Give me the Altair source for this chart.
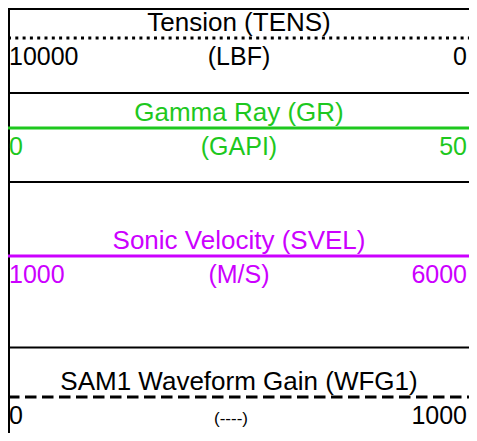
import altair as alt
import pandas as pd

# ---------------- data ----------------
curve_names = ["Tension (TENS)", "Gamma Ray (GR)", "Sonic Velocity (SVEL)", "SAM1 Waveform Gain (WFG1)"]
curve_units = ["(LBF)", "(GAPI)", "(M/S)", "(----)"]
scale_left = ["10000", "0", "1000", "0"]
scale_right = ["0", "50", "6000", "1000"]

# ---------------- styles ----------------
curve_colors = ["#000000", "#1ec81e", "#cc00ff", "#000000"]
curve_dash = ["dotted", "solid", "solid", "dashed"]
unit_sizes = [25, 25, 25, 17]
FONT = "Liberation Sans"

# ---------------- layout (plot-area pixels) ----------------
W, H = 461, 425
line_y = [30, 120, 248, 389]          # curve line of each header row
sep_y = [1, 85, 174, 339.5]            # black separators between rows
TITLE_UP = 7
LABEL_DOWN = 26.5
X_LEFT, X_RIGHT, X_CENTER = 1, 459, 231

curves = pd.DataFrame({
    "name": curve_names,
    "unit": curve_units,
    "left": scale_left,
    "right": scale_right,
    "color": curve_colors,
    "dash": curve_dash,
    "usize": unit_sizes,
    "line_y": line_y,
    "title_y": [v - TITLE_UP for v in line_y],
    "label_y": [v + LABEL_DOWN for v in line_y],
    "x0": 0,
    "x1": W,
    "xl": X_LEFT,
    "xr": X_RIGHT,
    "xc": X_CENTER,
    "xu": [X_CENTER, X_CENTER, X_CENTER, X_CENTER - 8],
})

seps = pd.DataFrame({"y": sep_y, "x0": 0, "x1": W})
border = pd.DataFrame({"x": [1], "y0": [0], "y1": [H]})

xs = alt.Scale(domain=[0, W])
ys = alt.Scale(domain=[0, H], reverse=True)

sep_layer = alt.Chart(seps).mark_rule(color="#000000", strokeWidth=2).encode(
    x=alt.X("x0:Q", scale=xs, axis=None),
    x2="x1:Q",
    y=alt.Y("y:Q", scale=ys, axis=None),
)

border_layer = alt.Chart(border).mark_rule(color="#000000", strokeWidth=2).encode(
    x=alt.X("x:Q", scale=xs, axis=None),
    y=alt.Y("y0:Q", scale=ys, axis=None),
    y2="y1:Q",
)

line_layer = alt.Chart(curves).mark_rule(strokeWidth=3, strokeCap="butt").encode(
    x=alt.X("x0:Q", scale=xs, axis=None),
    x2="x1:Q",
    y=alt.Y("line_y:Q", scale=ys, axis=None),
    color=alt.Color("color:N", scale=None),
    strokeDash=alt.StrokeDash(
        "dash:N",
        scale=alt.Scale(domain=["solid", "dotted", "dashed"], range=[[1, 0], [3, 4.3], [11.5, 5.5]]),
        legend=None,
    ),
)

base = alt.Chart(curves)

title_layer = base.mark_text(font=FONT, fontSize=26, align="center", baseline="alphabetic").encode(
    x=alt.X("xc:Q", scale=xs, axis=None),
    y=alt.Y("title_y:Q", scale=ys, axis=None),
    text="name:N",
    color=alt.Color("color:N", scale=None),
)

left_layer = base.mark_text(font=FONT, fontSize=25, align="left", baseline="alphabetic").encode(
    x=alt.X("xl:Q", scale=xs, axis=None),
    y=alt.Y("label_y:Q", scale=ys, axis=None),
    text="left:N",
    color=alt.Color("color:N", scale=None),
)

right_layer = base.mark_text(font=FONT, fontSize=25, align="right", baseline="alphabetic").encode(
    x=alt.X("xr:Q", scale=xs, axis=None),
    y=alt.Y("label_y:Q", scale=ys, axis=None),
    text="right:N",
    color=alt.Color("color:N", scale=None),
)

unit_layer = base.mark_text(font=FONT, align="center", baseline="alphabetic").encode(
    x=alt.X("xu:Q", scale=xs, axis=None),
    y=alt.Y("label_y:Q", scale=ys, axis=None),
    text="unit:N",
    size=alt.Size("usize:Q", scale=None),
    color=alt.Color("color:N", scale=None),
)

chart = alt.layer(
    sep_layer, border_layer, line_layer, title_layer, left_layer, right_layer, unit_layer
).properties(
    width=W, height=H, padding=0, autosize=alt.AutoSizeParams(type="none"), background="white"
).configure_view(strokeWidth=0)

chart.save("out.html", embed_options={"renderer": "svg", "actions": False})
